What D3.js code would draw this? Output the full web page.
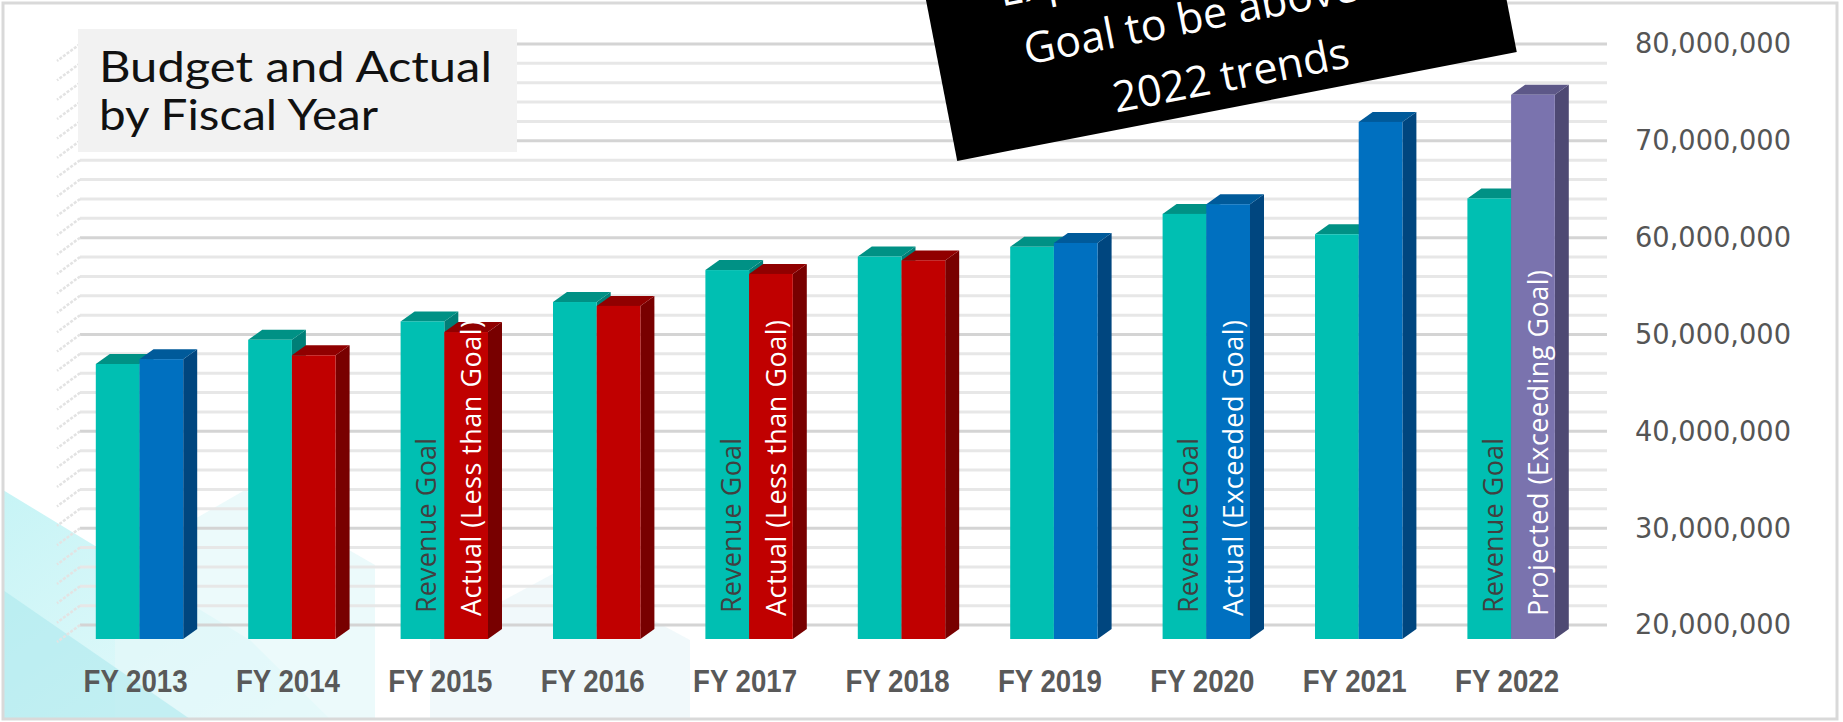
<!DOCTYPE html>
<html><head><meta charset="utf-8">
<script src="https://cdn.jsdelivr.net/npm/d3@7"></script>
<style>body{margin:0;background:#fff}svg{display:block}</style>
</head><body>
<svg id="chart" width="1843" height="722"></svg>
<script>
// ---------- data ----------
const years = ["FY 2013","FY 2014","FY 2015","FY 2016","FY 2017","FY 2018","FY 2019","FY 2020","FY 2021","FY 2022"];
const revenueGoal = [48400000, 50900000, 52800000, 54800000, 58100000, 59500000, 60500000, 63900000, 61800000, 65500000];
const actualRevenue = [48900000, 49300000, 51700000, 54400000, 57700000, 59100000, 60900000, 64900000, 73400000, 76200000];
const actualStatus = ["exceeded","less","less","less","less","less","exceeded","exceeded","exceeded","projected"];
const yTickValues = [20000000, 30000000, 40000000, 50000000, 60000000, 70000000, 80000000];
const minorStep = 2000000;
const labelYears = ["FY 2015","FY 2017","FY 2020","FY 2022"];
const labelGoalText = ["Revenue Goal","Revenue Goal","Revenue Goal","Revenue Goal"];
const labelActualText = ["Actual (Less than Goal)","Actual (Less than Goal)","Actual (Exceeded Goal)","Projected (Exceeding Goal)"];
const titleLines = ["Budget and Actual","by Fiscal Year"];
const calloutLines = ["Expect FY23 Revenue","Goal to be above FY","2022 trends"];

// ---------- styles ----------
const palette = {
  goal:      {front:"#00BFB2", top:"#009185", side:"#007F77"},
  exceeded:  {front:"#0070C0", top:"#005A9A", side:"#00467F"},
  less:      {front:"#C00000", top:"#900000", side:"#780000"},
  projected: {front:"#7A73AE", top:"#5D5888", side:"#4E4973"}
};

const svg = d3.select("#chart");

// background decoration (bottom-left)
const defs = svg.append("defs");
const lg = defs.append("linearGradient").attr("id","cyan").attr("x1","0").attr("y1","0").attr("x2","1").attr("y2","1");
lg.append("stop").attr("offset","0").attr("stop-color","#bdf2f4");
lg.append("stop").attr("offset","1").attr("stop-color","#e6fafb");
const deco = svg.append("g");
deco.append("path").attr("d","M3,490 L250,640 L330,719 L3,719 Z").attr("fill","url(#cyan)").attr("opacity",0.85);
deco.append("path").attr("d","M115,565 L245,490 L375,565 L375,719 L115,719 Z").attr("fill","#e4f8fa").attr("opacity",0.7);
deco.append("path").attr("d","M3,590 L190,719 L3,719 Z").attr("fill","#a9e8ec").attr("opacity",0.55);
deco.append("path").attr("d","M430,640 L560,570 L690,640 L690,719 L430,719 Z").attr("fill","#eef8fa").attr("opacity",0.8);

// outer border
svg.append("rect").attr("x",3).attr("y",3).attr("width",1834).attr("height",716)
  .attr("fill","none").attr("stroke","#d9d9d9").attr("stroke-width",3);

// scales
const y = d3.scaleLinear().domain([20000000, 80000000]).range([625, 44]);
const x = d3.scaleBand().domain(years).range([63.3, 1587.3]);
const barW = 43.7, depthDx = 14, depthDy = -10, frontDrop = 14;
const wallLeft = 80, wallRight = 1607;

// gridlines (back wall + side wall)
const gridVals = d3.range(20000000, 80000001, minorStep);
const grid = svg.append("g");
gridVals.forEach(v => {
  const major = yTickValues.includes(v);
  grid.append("line").attr("x1",wallLeft).attr("x2",wallRight).attr("y1",y(v)).attr("y2",y(v))
    .attr("stroke", major ? "#d4d4d4" : "#e7e7e7").attr("stroke-width",3);
  grid.append("line").attr("x1",wallLeft).attr("x2",wallLeft-23).attr("y1",y(v)).attr("y2",y(v)+17)
    .attr("stroke","#e3e3e3").attr("stroke-width",2.5).attr("stroke-dasharray","3,1.5");
});

// title box
svg.append("rect").attr("x",78).attr("y",29).attr("width",439).attr("height",123).attr("fill","#f2f2f2");
const titleLen = [393, 279];
svg.append("g").selectAll("text").data(titleLines).join("text")
  .attr("x",99).attr("y",(d,i)=>82+i*48)
  .attr("font-family","Lato, 'Open Sans', sans-serif").attr("font-size",43).attr("font-weight",400)
  .attr("textLength",(d,i)=>titleLen[i]).attr("lengthAdjust","spacingAndGlyphs")
  .attr("fill","#111").text(d=>d);

// bars
function drawBar(g, x0, v, col){
  const yb = y(20000000) + frontDrop, yt = y(v) + frontDrop;
  g.append("polygon").attr("points",[[x0+barW,yt],[x0+barW+depthDx,yt+depthDy],[x0+barW+depthDx,yb+depthDy],[x0+barW,yb]].join(" "))
    .attr("fill",col.side);
  g.append("polygon").attr("points",[[x0,yt],[x0+depthDx,yt+depthDy],[x0+barW+depthDx,yt+depthDy],[x0+barW,yt]].join(" "))
    .attr("fill",col.top);
  g.append("rect").attr("x",x0).attr("y",yt).attr("width",barW).attr("height",yb-yt).attr("fill",col.front);
}
const bars = svg.append("g");
years.forEach((yr,i) => {
  const c = x(yr) + x.bandwidth()/2;
  const g = bars.append("g");
  drawBar(g, c - barW, revenueGoal[i], palette.goal);
  drawBar(g, c, actualRevenue[i], palette[actualStatus[i]]);
});

// in-bar labels
const lab = svg.append("g").attr("font-family","'Open Sans', sans-serif").attr("font-size",27);
const labelLen = {"Revenue Goal":175,"Actual (Less than Goal)":296,"Actual (Exceeded Goal)":296,"Projected (Exceeding Goal)":346};
labelYears.forEach((yr,k) => {
  const c = x(yr) + x.bandwidth()/2;
  lab.append("text").attr("transform",`translate(${c-8},613) rotate(-90)`)
    .attr("fill","#404040").attr("textLength",labelLen[labelGoalText[k]]).text(labelGoalText[k]);
  lab.append("text").attr("transform",`translate(${c+barW-7},616) rotate(-90)`)
    .attr("fill","#ffffff").attr("textLength",labelLen[labelActualText[k]]).text(labelActualText[k]);
});

// x axis labels
const xAxis = svg.append("g").attr("transform","translate(-4,0)").call(d3.axisBottom(x).tickSize(0));
xAxis.select(".domain").remove();
xAxis.selectAll("text").attr("y",692).attr("dy",0)
  .attr("font-family","'Liberation Sans', Arial, sans-serif").attr("font-weight","bold")
  .attr("font-size",32).attr("fill","#595959").attr("textLength",104).attr("lengthAdjust","spacingAndGlyphs");

// y axis labels (right)
const yAxis = svg.append("g").attr("transform","translate(1635,0)")
  .call(d3.axisRight(y).tickValues(yTickValues).tickFormat(d3.format(",")).tickSize(0).tickPadding(0));
yAxis.select(".domain").remove();
yAxis.selectAll("text").attr("font-family","'DejaVu Sans', Verdana, sans-serif").attr("font-size",28)
  .attr("fill","#555555").attr("textLength",156).attr("lengthAdjust","spacingAndGlyphs");

// callout box
const call = svg.append("g").attr("transform","translate(1237,106.5) rotate(-11)");
call.append("rect").attr("x",-285).attr("y",-420).attr("width",570).attr("height",420).attr("fill","#000");
const calloutBase = [-143, -81, -17];
call.selectAll("text").data(calloutLines).join("text")
  .attr("x",0).attr("y",(d,i)=>calloutBase[i])
  .attr("text-anchor","middle").attr("font-family","'Open Sans', sans-serif").attr("font-size",43)
  .attr("fill","#fff").text(d=>d);
</script>
</body></html>
